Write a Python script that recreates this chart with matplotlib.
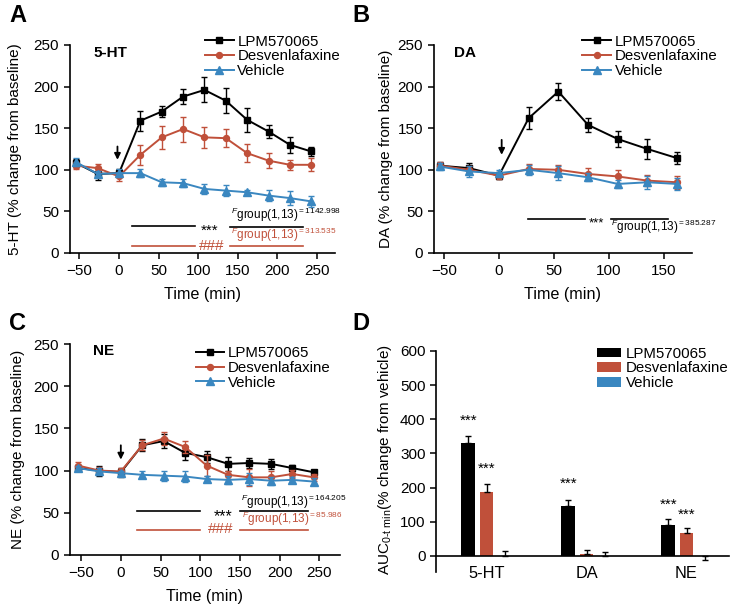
import numpy as np
import matplotlib
matplotlib.use('Agg')
import matplotlib.pyplot as plt

plt.rcParams['font.family'] = ['Liberation Sans', 'DejaVu Sans']
plt.rcParams['mathtext.fontset'] = 'custom'
plt.rcParams['mathtext.rm'] = 'Liberation Sans'
plt.rcParams['mathtext.it'] = 'Liberation Sans:italic'

# ---- data ----
series = ['LPM570065', 'Desvenlafaxine', 'Vehicle']
colors = ['#000000', '#c0503a', '#3a87c0']
markers = ['s', 'o', '^']

t_long = [-54, -27, 0, 27, 54, 81, 108, 135, 162, 189, 216, 243]
t_short = [-54, -27, 0, 27, 54, 81, 108, 135, 162]

ht_lpm = [108, 95, 96, 159, 170, 188, 196, 183, 160, 146, 130, 122]
ht_lpm_err = [5, 7, 5, 12, 7, 9, 15, 15, 14, 8, 10, 6]
ht_des = [105, 102, 92, 118, 139, 149, 139, 138, 120, 111, 106, 106]
ht_des_err = [4, 5, 5, 12, 14, 15, 13, 11, 11, 9, 6, 8]
ht_veh = [109, 95, 96, 96, 85, 84, 77, 75, 73, 69, 66, 62]
ht_veh_err = [5, 4, 5, 5, 4, 5, 6, 7, 3, 7, 8, 7]

da_lpm = [105, 102, 93, 162, 194, 154, 137, 125, 114]
da_lpm_err = [4, 6, 4, 13, 10, 8, 10, 12, 7]
da_des = [105, 100, 93, 101, 100, 95, 92, 87, 85]
da_des_err = [4, 5, 4, 6, 6, 7, 8, 7, 8]
da_veh = [104, 98, 96, 100, 96, 91, 83, 85, 83]
da_veh_err = [4, 7, 4, 6, 8, 5, 5, 8, 7]

ne_lpm = [103, 100, 98, 130, 135, 121, 116, 108, 109, 108, 103, 98]
ne_lpm_err = [4, 6, 5, 7, 8, 8, 7, 8, 6, 6, 4, 3]
ne_des = [106, 100, 99, 130, 138, 128, 106, 95, 92, 92, 96, 92]
ne_des_err = [4, 4, 4, 6, 8, 7, 12, 5, 10, 8, 5, 4]
ne_veh = [103, 99, 97, 95, 94, 93, 90, 89, 90, 88, 89, 87]
ne_veh_err = [3, 4, 3, 4, 6, 6, 4, 5, 7, 5, 4, 4]

groups = ['5-HT', 'DA', 'NE']
auc_lpm = [330, 147, 91]
auc_lpm_err = [22, 18, 16]
auc_des = [187, 7, 68]
auc_des_err = [25, 11, 15]
auc_veh = [0, 0, 0]
auc_veh_err = [15, 12, -13]

fig = plt.figure(figsize=(7.38, 6.14), dpi=100)

def px(l, r, t, b):
    W, H = 738.0, 614.0
    return [l / W, 1 - b / H, (r - l) / W, (b - t) / H]

def stars(ax, x, y, txt='***', size=11, color='black'):
    # put the visual centre of the asterisks at y
    ax.annotate(txt, xy=(x, y), xytext=(0, -0.6 * size), textcoords='offset points',
                ha='center', va='baseline', fontsize=size, color=color)

def fstat(ax, x, y, val, color='black'):
    ax.text(x, y, r'$^{F}$group(1,13)$^{=' + val + '}$', fontsize=8.5,
            va='baseline', ha='left', color=color)

def line_panel(ax, t, data, errs, title, tx, ty, ylabel, xlim, xticks, leg_x, leg_y, arrow):
    for i in range(3):
        ax.errorbar(t, data[i], yerr=errs[i], fmt='none', ecolor=colors[i],
                    elinewidth=1.0, capsize=2.5, capthick=1.0, zorder=2 + i)
        ms = 5.5 if markers[i] == '^' else 4.3
        ax.plot(t, data[i], color=colors[i], marker=markers[i], ms=ms, lw=1.4,
                label=series[i], zorder=3 + i)
    ax.set_xlim(*xlim)
    ax.set_ylim(0, 250)
    ax.set_xticks(xticks)
    ax.set_yticks([0, 50, 100, 150, 200, 250])
    for s in ['top', 'right']:
        ax.spines[s].set_visible(False)
    ax.spines['left'].set_linewidth(1.2)
    ax.spines['bottom'].set_linewidth(1.2)
    ax.tick_params(labelsize=11, length=4, width=1.1, pad=4)
    ax.set_xlabel('Time (min)', fontsize=11.6, labelpad=6.5)
    ax.set_ylabel(ylabel, fontsize=11)
    ax.text(tx, ty, title, transform=ax.transAxes, fontsize=11,
            fontweight='bold', va='center', ha='left')
    ax.legend(loc='upper left', bbox_to_anchor=(leg_x, leg_y), frameon=False,
              fontsize=10.8, handlelength=1.9, handletextpad=0.25,
              labelspacing=0.05, borderpad=0, borderaxespad=0)
    ax.annotate('', xy=(arrow[0], arrow[2]), xytext=(arrow[0], arrow[1]),
                arrowprops=dict(arrowstyle='-|>', color='black', lw=1.3,
                                mutation_scale=9, shrinkA=0, shrinkB=0))

# ---- A ----
axA = fig.add_axes(px(70, 335, 45, 253))
line_panel(axA, t_long, [ht_lpm, ht_des, ht_veh], [ht_lpm_err, ht_des_err, ht_veh_err],
           '5-HT', 0.087, 0.96, '5-HT (% change from baseline)', (-62, 273),
           [-50, 0, 50, 100, 150, 200, 250], 0.51, 1.05, (-2, 128, 112))
axA.plot([17, 96], [33, 33], color='black', lw=1.2)
axA.plot([140, 233], [31.5, 31.5], color='black', lw=1.2)
stars(axA, 115, 33, size=11)
fstat(axA, 141, 40.5, '1142.998')
axA.plot([17, 96], [9, 9], color=colors[1], lw=1.2)
axA.plot([140, 233], [9, 9], color=colors[1], lw=1.2)
axA.text(116.5, 3.6, '###', ha='center', va='baseline', fontsize=11, color=colors[1])
fstat(axA, 141, 16.5, '313.535', color=colors[1])

# ---- B ----
axB = fig.add_axes(px(434, 692, 45, 253))
line_panel(axB, t_short, [da_lpm, da_des, da_veh], [da_lpm_err, da_des_err, da_veh_err],
           'DA', 0.078, 0.963, 'DA (% change from baseline)', (-59, 175.5),
           [-50, 0, 50, 100, 150], 0.575, 1.05, (2.5, 136, 118))
axB.plot([26, 78], [41, 41], color='black', lw=1.2)
axB.plot([102, 154], [41, 41], color='black', lw=1.2)
stars(axB, 89, 41, size=9.5)
fstat(axB, 101.5, 26.4, '385.287')

# ---- C ----
axC = fig.add_axes(px(70, 340, 344, 555))
line_panel(axC, t_long, [ne_lpm, ne_des, ne_veh], [ne_lpm_err, ne_des_err, ne_veh_err],
           'NE', 0.085, 0.967, 'NE (% change from baseline)', (-64, 276),
           [-50, 0, 50, 100, 150, 200, 250], 0.465, 0.99, (0, 130, 113))
axC.plot([20, 100], [52, 52], color='black', lw=1.2)
axC.plot([150, 236], [52, 52], color='black', lw=1.2)
stars(axC, 129, 52, size=11.5)
fstat(axC, 151, 58, '164.205')
axC.plot([20, 100], [30, 30], color=colors[1], lw=1.2)
axC.plot([150, 236], [30, 30], color=colors[1], lw=1.2)
axC.text(125.5, 26, '###', ha='center', va='baseline', fontsize=11, color=colors[1])
fstat(axC, 152, 38, '85.986', color=colors[1])

# ---- D ----
axD = fig.add_axes(px(436, 729, 351, 572))
x = np.arange(len(groups))
off = 0.183
w = 0.135
vals = [auc_lpm, auc_des, auc_veh]
errs = [auc_lpm_err, auc_des_err, auc_veh_err]
for i in range(3):
    xs = x + (i - 1) * off
    axD.bar(xs, vals[i], width=w, color=colors[i], label=series[i], zorder=2)
    e = np.array(errs[i])
    lo = np.where(e < 0, -e, 0)
    hi = np.where(e > 0, e, 0)
    axD.errorbar(xs, vals[i], yerr=[lo, hi], fmt='none', ecolor='black',
                 elinewidth=1.0, capsize=2.5, capthick=1.0, zorder=3)
star_pos = [(0, 0, 412), (0, 1, 270), (1, 0, 225), (2, 0, 165), (2, 1, 136)]
for g, s, yv in star_pos:
    stars(axD, x[g] + (s - 1) * off, yv, size=11)
axD.set_xlim(-0.505, 2.425)
axD.set_ylim(-47, 600)
axD.set_yticks([0, 100, 200, 300, 400, 500, 600])
axD.set_xticks(x)
axD.set_xticklabels(groups)
axD.spines['bottom'].set_position(('data', 0))
for s in ['top', 'right']:
    axD.spines[s].set_visible(False)
axD.spines['left'].set_linewidth(1.2)
axD.spines['bottom'].set_linewidth(1.2)
axD.tick_params(axis='y', labelsize=11, length=4, width=1.1)
axD.tick_params(axis='x', labelsize=11.8, length=0, pad=7)
axD.set_ylabel(r'AUC$_{\mathregular{0\text{-}t\ min}}$(% change from vehicle)', fontsize=11)
axD.legend(loc='upper left', bbox_to_anchor=(0.55, 1.02), frameon=False,
           fontsize=10.8, handlelength=1.6, handleheight=0.6, handletextpad=0.3,
           labelspacing=0.05, borderpad=0, borderaxespad=0)

axA.yaxis.set_label_coords(-0.181, 0.5)
axB.yaxis.set_label_coords(-0.160, 0.5)
axC.yaxis.set_label_coords(-0.168, 0.5)
axD.yaxis.set_label_coords(-0.144, 0.507)

fig.text(17.5 / 738, 1 - 15 / 614, 'A', fontsize=17, fontweight='bold', ha='center', va='center')
fig.text(361 / 738, 1 - 15 / 614, 'B', fontsize=17, fontweight='bold', ha='center', va='center')
fig.text(17.5 / 738, 1 - 324 / 614, 'C', fontsize=17, fontweight='bold', ha='center', va='center')
fig.text(361 / 738, 1 - 324 / 614, 'D', fontsize=17, fontweight='bold', ha='center', va='center')

fig.savefig('out.png', dpi=100)
